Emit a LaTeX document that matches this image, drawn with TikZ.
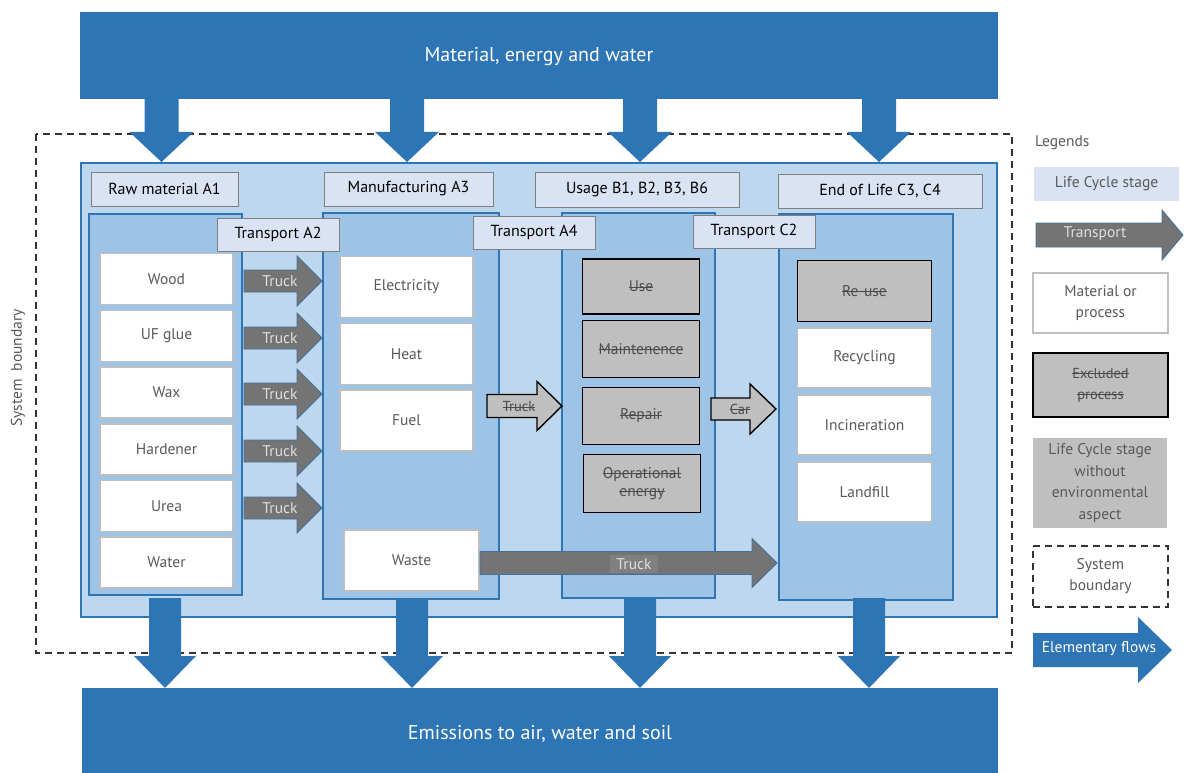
\documentclass[tikz,border=0pt]{standalone}
\usepackage{fontspec}
\setmainfont{PT Sans}
\newcommand\strk[1]{\setbox0=\hbox{#1}\rlap{\copy0}\rule[0.27em]{\wd0}{0.07em}}
\definecolor{dblue}{HTML}{2E75B6}
\definecolor{mainblue}{HTML}{BDD7EE}
\definecolor{stageblue}{HTML}{9DC3E6}
\definecolor{headfill}{HTML}{DAE3F3}
\definecolor{exgray}{HTML}{BFBFBF}
\definecolor{truckgray}{HTML}{747474}
\definecolor{truckedge}{HTML}{41719C}
\definecolor{txtgray}{HTML}{595959}
\definecolor{boxedge}{HTML}{BFBFBF}
\definecolor{hedge}{HTML}{7F7F7F}
% right block arrow: style, x1, xtip, yc, shaft half, head half, head length
\newcommand\RArr[7]{\path[#1] (#2,#4-#5) -- (#3-#7,#4-#5) -- (#3-#7,#4-#6) -- (#3,#4) -- (#3-#7,#4+#6) -- (#3-#7,#4+#5) -- (#2,#4+#5) -- cycle;}
% down block arrow: style, xc, ytop, ytip, shaft half, head half, head length
\newcommand\DArr[7]{\path[#1] (#2-#5,#3) -- (#2+#5,#3) -- (#2+#5,#4-#7) -- (#2+#6,#4-#7) -- (#2,#4) -- (#2-#6,#4-#7) -- (#2-#5,#4-#7) -- cycle;}
\begin{document}
\begin{tikzpicture}[x=1pt,y=-1pt,
  every node/.style={inner sep=0pt, outer sep=0pt, align=center, font=\fontsize{15.5}{18}\selectfont},
  bigbar/.style={fill=dblue, draw=dblue},
  bartext/.style={text=white, font=\fontsize{20}{24}\selectfont},
  mainbox/.style={fill=mainblue, draw=dblue, line width=1.2pt},
  stagebox/.style={fill=stageblue, draw=dblue, line width=1.2pt},
  headbox/.style={fill=headfill, draw=hedge, line width=0.9pt, text=black, font=\fontsize{16}{19}\selectfont},
  matbox/.style={fill=white, draw=boxedge, line width=1.2pt, text=txtgray},
  exbox/.style={fill=exgray, draw=black, line width=1.6pt, text=black!70},
  flowarrow/.style={fill=dblue},
  truckarrow/.style={fill=truckgray, draw=truckedge, line width=0.9pt},
  exarrow/.style={fill=exgray, draw=black, line width=1.4pt},
  trucklbl/.style={text=black!12, font=\fontsize{15.5}{18}\selectfont},
  exlbl/.style={text=black!70, font=\fontsize{14.5}{17}\selectfont},
  sysbound/.style={draw=black!80, dashed, dash pattern=on 7pt off 5pt, line width=1.5pt}
]
\useasboundingbox (0,0) rectangle (1184,773);

% top and bottom bars
\node[bigbar, minimum width=917pt, minimum height=86pt] (inputs) at (538.5,55) {};
\node[bartext] (inputstext) at (539,57) {Material, energy and water};
\node[bigbar, minimum width=915pt, minimum height=86pt] (emissions) at (539.5,731) {};
\node[bartext] (emissionstext) at (540,734) {Emissions to air, water and soil};

% system boundary
\draw[sysbound] (36,134) rectangle (1012,653);
\node[text=txtgray, rotate=90] (sblabel) at (18,368) {System\ \ boundary};

% main box
\node[mainbox, minimum width=916pt, minimum height=454pt] (main) at (539,390) {};

% top arrows
\foreach \xc in {161.5,407,640,879}{\DArr{flowarrow}{\xc}{94}{162}{17}{32}{30}}

% stage boxes
\node[stagebox, minimum width=153pt, minimum height=381pt] (rawstage) at (165.5,404.5) {};
\node[stagebox, minimum width=176pt, minimum height=386pt] (manstage) at (411,406) {};
\node[stagebox, minimum width=153pt, minimum height=385pt] (usestage) at (638.5,405.5) {};
\node[stagebox, minimum width=174pt, minimum height=386pt] (eolstage) at (866,407) {};

% stage headers
\node[headbox, minimum width=147pt, minimum height=34pt] (hA1) at (164.5,189) {Raw material A1};
\node[headbox, minimum width=169pt, minimum height=34pt] (hA3) at (408.5,189) {Manufacturing A3};
\node[headbox, minimum width=204pt, minimum height=35pt] (hB) at (637,189.5) {Usage B1, B2, B3, B6};
\node[headbox, minimum width=204pt, minimum height=34pt] (hC) at (880,191) {End of Life C3, C4};

% transport headers
\node[headbox, minimum width=122pt, minimum height=33pt] (hA2) at (278,234.5) {Transport A2};
\node[headbox, minimum width=122pt, minimum height=33pt] (hA4) at (534,232.5) {Transport A4};
\node[headbox, minimum width=122pt, minimum height=33pt] (hC2) at (754,231.5) {Transport C2};

% raw materials
\node[matbox, minimum width=133pt, minimum height=51pt] (wood) at (166.5,279) {Wood};
\node[matbox, minimum width=133pt, minimum height=51pt] (glue) at (166.5,336) {UF glue};
\node[matbox, minimum width=133pt, minimum height=51pt] (wax) at (166.5,392.5) {Wax};
\node[matbox, minimum width=133pt, minimum height=51pt] (hard) at (166.5,449.5) {Hardener};
\node[matbox, minimum width=133pt, minimum height=51pt] (urea) at (166.5,506) {Urea};
\node[matbox, minimum width=133pt, minimum height=51pt] (water) at (166.5,562.5) {Water};

% manufacturing
\node[matbox, minimum width=133pt, minimum height=61pt] (elec) at (406.5,287) {Electricity};
\node[matbox, minimum width=133pt, minimum height=61pt] (heat) at (406.5,354) {Heat};
\node[matbox, minimum width=133pt, minimum height=61pt] (fuel) at (406.5,420.5) {Fuel};
\node[matbox, minimum width=135pt, minimum height=61pt] (waste) at (411.5,560.5) {Waste};

% usage (excluded)
\node[exbox, minimum width=117pt, minimum height=55pt] (use) at (641,286.5) {\strk{Use}};
\node[exbox, minimum width=117pt, minimum height=57pt] (maint) at (641,349) {\strk{Maintenence}};
\node[exbox, minimum width=117pt, minimum height=57pt] (repair) at (641,416) {\strk{Repair}};
\node[exbox, minimum width=117pt, minimum height=58pt, font=\fontsize{15.5}{18}\selectfont] (opener) at (642,483.5) {\strk{Operational}\\\strk{energy}};

% end of life
\node[exbox, minimum width=134pt, minimum height=61pt] (reuse) at (864.5,291) {\strk{Re-use}};
\node[matbox, minimum width=134pt, minimum height=60pt] (recyc) at (864.5,358) {Recycling};
\node[matbox, minimum width=134pt, minimum height=60pt] (incin) at (864.5,425) {Incineration};
\node[matbox, minimum width=134pt, minimum height=60pt] (landf) at (864.5,492) {Landfill};

% trucks raw material -> manufacturing
\foreach \yc/\nm in {281/t1,338/t2,394/t3,451/t4,508/t5}{
  \RArr{truckarrow}{244}{322}{\yc}{11}{25}{25}
  \node[trucklbl] (\nm) at (280,\yc) {Truck};
}
% transport A4 (excluded)
\RArr{exarrow}{487}{562}{406}{11.5}{24.5}{25}
\node[exlbl] (tA4) at (519,407) {\strk{Truck}};
% transport C2 (excluded)
\RArr{exarrow}{711}{776}{409}{11}{25}{26}
\node[exlbl] (tC2) at (740,409) {\strk{Car}};
% waste truck
\RArr{truckarrow}{480}{777}{563}{11.5}{24.5}{25}
\node[trucklbl, fill=black!50, inner xsep=6pt, inner ysep=3pt] (twaste) at (634,564) {Truck};

% bottom arrows
\foreach \xc in {165,412,640,869}{\DArr{flowarrow}{\xc}{598}{688}{16}{31}{32}}

% legends
\node[anchor=west, text=txtgray] (leg) at (1035,143) {Legends};
\node[fill=headfill, minimum width=145pt, minimum height=34pt, text=txtgray] (lgstage) at (1106.5,184) {Life Cycle stage};
\RArr{truckarrow}{1036}{1183}{235}{12}{25}{21}
\node[trucklbl] (lgtrans) at (1095,234) {Transport};
\node[matbox, minimum width=135pt, minimum height=60pt, font=\fontsize{15.5}{21}\selectfont] (lgmat) at (1100.5,303) {Material or\\process};
\node[exbox, minimum width=135pt, minimum height=64pt, font=\fontsize{14.5}{21}\selectfont] (lgex) at (1100.5,385) {\strk{Excluded}\\\strk{process}};
\node[fill=exgray, minimum width=134pt, minimum height=90pt, text=txtgray, font=\fontsize{15.5}{21.5}\selectfont] (lgnoenv) at (1100,483) {Life Cycle stage\\without\\environmental\\aspect};
\node[sysbound, minimum width=135pt, minimum height=61pt, text=txtgray, font=\fontsize{15.5}{21}\selectfont] (lgsys) at (1100.5,576.5) {System\\boundary};
\RArr{flowarrow}{1033}{1172}{650}{17}{33}{34}
\node[text=white] (lgflow) at (1099,649) {Elementary flows};
\end{tikzpicture}
\end{document}
